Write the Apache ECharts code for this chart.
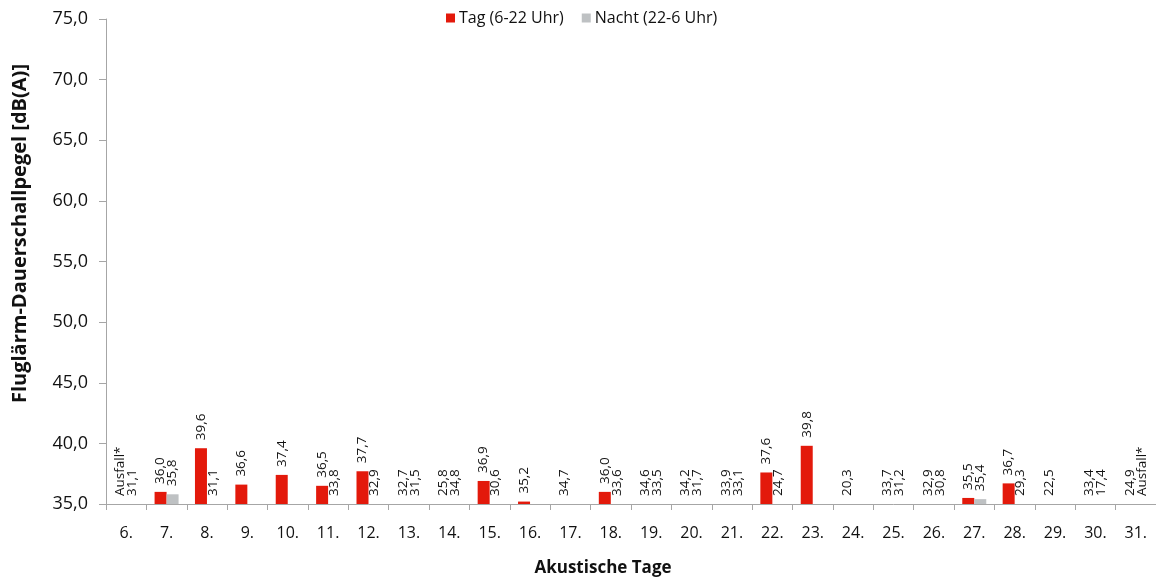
<!DOCTYPE html>
<html>
<head>
<meta charset="utf-8">
<title>Fluglärm-Dauerschallpegel</title>
<script src="https://cdn.jsdelivr.net/npm/echarts@6/dist/echarts.min.js"></script>
<style>
  html, body { margin: 0; padding: 0; background: #fff; }
  #chart { width: 1156px; height: 583px; }
</style>
</head>
<body>
<div id="chart"></div>
<script>
// Acoustic days of the month
const days = ['6.', '7.', '8.', '9.', '10.', '11.', '12.', '13.', '14.', '15.', '16.', '17.', '18.',
  '19.', '20.', '21.', '22.', '23.', '24.', '25.', '26.', '27.', '28.', '29.', '30.', '31.'];

// Day-time level (6-22 h), dB(A); null = measurement failure ("Ausfall*")
const tagValues = [null, 36.0, 39.6, 36.6, 37.4, 36.5, 37.7, 32.7, 25.8, 36.9, 35.2, 34.7, 36.0,
  34.6, 34.2, 33.9, 37.6, 39.8, 20.3, 33.7, 32.9, 35.5, 36.7, 22.5, 33.4, 24.9];

// Night-time level (22-6 h), dB(A); undefined = no value, null = measurement failure ("Ausfall*")
const nachtValues = [31.1, 35.8, 31.1, undefined, undefined, 33.8, 32.9, 31.5, 34.8, 30.6, undefined, undefined, 33.6,
  33.5, 31.7, 33.1, 24.7, undefined, undefined, 31.2, 30.8, 35.4, 29.3, undefined, 17.4, null];

// Value axis
const yMin = 35, yMax = 75, yStep = 5;
const yTickFormat = v => v.toFixed(1).replace('.', ',');

const RED = '#E3190B';
const GRAY = '#BEC1C3';
const TEXT = '#111';
const FONT = 'Open Sans';

// Failure entries are placed at the axis floor (zero height) and carry the "Ausfall*" label;
// values below the axis floor are not visible as bars, only their labels remain at the baseline.
function buildItems(values, color) {
  return values.map(v => {
    if (v === undefined) return '-';
    if (v === null) {
      return { value: yMin, itemStyle: { color: 'rgba(0,0,0,0)' }, label: { formatter: 'Ausfall*' } };
    }
    if (v < yMin) return { value: v, itemStyle: { color: 'rgba(0,0,0,0)' } };
    return { value: v, itemStyle: { color: color } };
  });
}

const valueLabel = {
  show: true,
  position: 'top',
  rotate: 90,
  align: 'left',
  verticalAlign: 'middle',
  distance: 8,
  color: TEXT,
  fontFamily: FONT,
  fontSize: 13.5,
  formatter: p => yTickFormat(p.value)
};

const chart = echarts.init(document.getElementById('chart'), null, { renderer: 'canvas' });

chart.setOption({
  backgroundColor: '#fff',
  animation: false,
  textStyle: { fontFamily: FONT, color: TEXT },
  legend: {
    left: 446,
    top: 10,
    padding: 0,
    icon: 'rect',
    itemWidth: 9,
    itemHeight: 9,
    itemGap: 18,
    textStyle: { fontFamily: FONT, fontSize: 16, color: TEXT, padding: [0, 0, 0, -1] },
    data: ['Tag (6-22 Uhr)', 'Nacht (22-6 Uhr)']
  },
  grid: { left: 106, top: 19, width: 1054, bottom: 79, containLabel: false },
  xAxis: {
    type: 'category',
    data: days,
    boundaryGap: true,
    name: 'Akustische Tage',
    nameLocation: 'middle',
    nameGap: 56,
    nameTextStyle: { fontFamily: FONT, fontSize: 17, fontWeight: 'bold', color: TEXT, padding: [0, 56, 0, 0] },
    axisLine: { lineStyle: { color: '#A6A6A6', width: 1 } },
    axisTick: { show: true, length: 6, interval: 0, lineStyle: { color: '#A6A6A6' } },
    axisLabel: { interval: 0, margin: 21, fontSize: 16, fontFamily: FONT, color: TEXT }
  },
  yAxis: {
    type: 'value',
    min: yMin,
    max: yMax,
    interval: yStep,
    startValue: yMin,
    name: 'Fluglärm-Dauerschallpegel [dB(A)]',
    nameLocation: 'middle',
    nameGap: 76,
    nameTextStyle: { fontFamily: FONT, fontSize: 20, fontWeight: 'bold', color: TEXT, padding: [0, 0, 0, 56] },
    axisLine: { show: true, lineStyle: { color: '#A6A6A6', width: 1 } },
    axisTick: { show: true, length: 7, lineStyle: { color: '#A6A6A6' } },
    splitLine: { show: false },
    axisLabel: { margin: 18, fontSize: 18, fontFamily: FONT, color: TEXT, formatter: yTickFormat }
  },
  series: [
    {
      name: 'Tag (6-22 Uhr)',
      type: 'bar',
      barWidth: 12,
      barGap: '0%',
      clip: false,
      itemStyle: { color: RED },
      label: valueLabel,
      data: buildItems(tagValues, RED)
    },
    {
      name: 'Nacht (22-6 Uhr)',
      type: 'bar',
      barWidth: 12,
      barGap: '0%',
      clip: false,
      itemStyle: { color: GRAY },
      label: valueLabel,
      data: buildItems(nachtValues, GRAY)
    }
  ]
});
</script>
</body>
</html>
